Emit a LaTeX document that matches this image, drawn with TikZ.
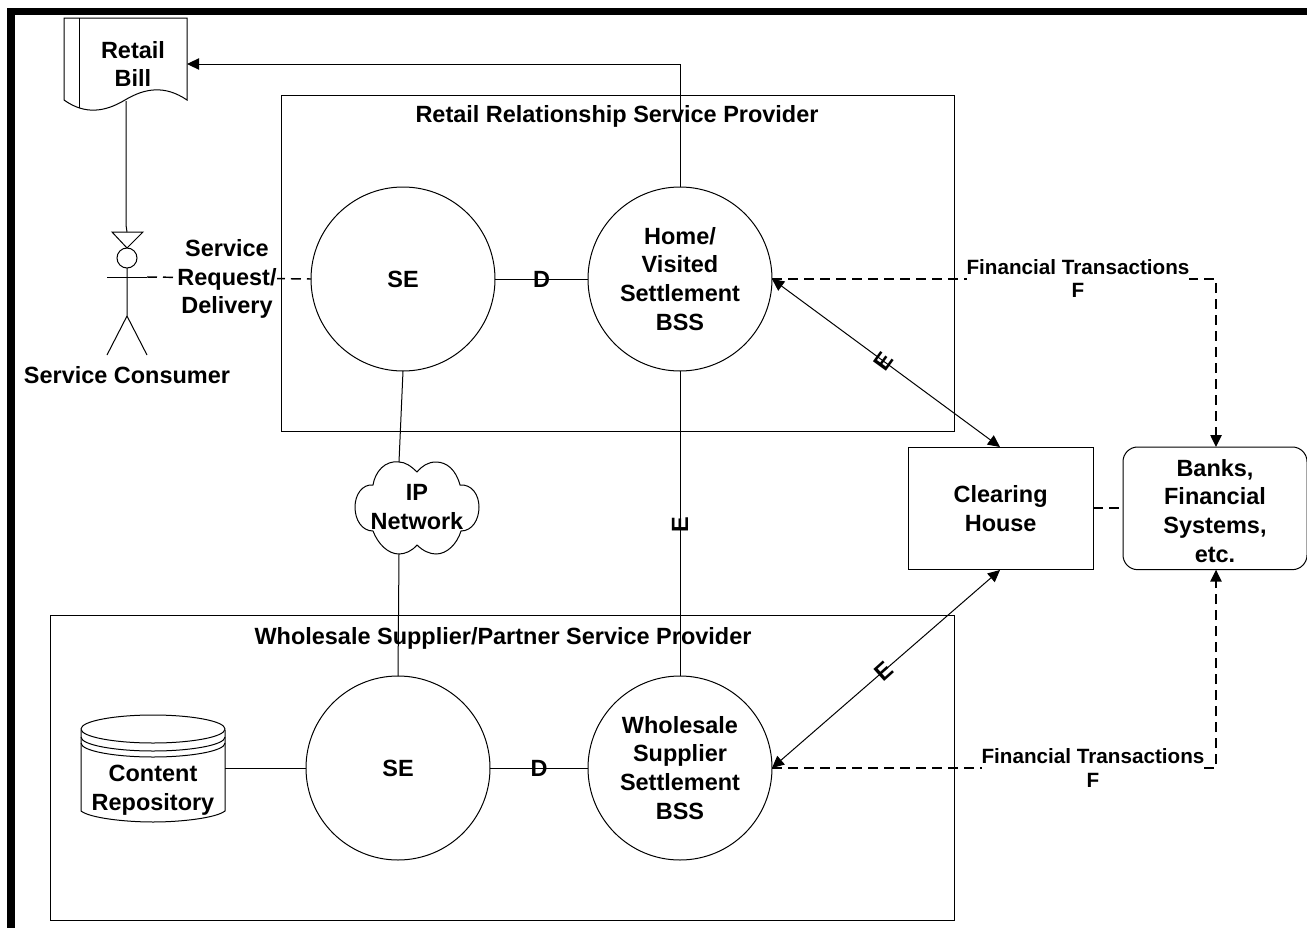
\documentclass[tikz,border=0pt]{standalone}
\usepackage{fontspec}
\setmainfont{Liberation Sans}
\usetikzlibrary{arrows.meta}
\tikzset{
 x=0.75pt,y=-0.75pt,
 every node/.style={font=\fontsize{17.6}{21.6}\selectfont\bfseries,align=center,inner sep=0pt,outer sep=0pt,text=black},
 ln/.style={draw=black,line width=0.75pt},
 box/.style={ln,rectangle,anchor=north west},
 circ/.style={ln,circle,minimum size=138pt},
 tip/.style={-{Triangle[length=9pt,width=8.5pt]}},
 ttip/.style={{Triangle[length=9pt,width=8.5pt]}-{Triangle[length=9pt,width=8.5pt]}},
 dsh/.style={line width=1.1pt,dash pattern=on 7.5pt off 4.5pt},
 small/.style={font=\fontsize{15.5}{17.3}\selectfont\bfseries},
 wht/.style={fill=white}
}
\begin{document}
\begin{tikzpicture}
\useasboundingbox (0,0) rectangle (1307,928);
\fill[white] (0,0) rectangle (1307,928);
\fill[black] (7,8) rectangle (1307,15);
\fill[black] (7,8) rectangle (15,928);
% containers
\node[box,minimum width=505pt,minimum height=252pt] (rrsp) at (281,95) {};
\node[box,minimum width=678pt,minimum height=229pt] (wsp) at (50,615) {};
\node (rrspt) at (617,116) {Retail Relationship Service Provider};
\node (wspt) at (503,638) {Wholesale Supplier/Partner Service Provider};
% circles
\node[circ] (se1) at (403,279) {SE};
\node[circ] (home) at (680,279) {Home/\\Visited\\Settlement\\BSS};
\node[circ] (se2) at (398,768) {SE};
\node[circ] (wss) at (680,768) {Wholesale\\Supplier\\Settlement\\BSS};
% boxes
\node[box,minimum width=139pt,minimum height=92pt] (ch) at (908,447) {};
\node at (ch.center) (chl) {Clearing\\House};
\node[box,rounded corners=11pt,minimum width=138pt,minimum height=92pt] (banks) at (1123,447) {};
\node (bankl) at (1215,511) {Banks,\\Financial\\Systems,\\etc.};
% retail bill
\draw[ln,fill=white] (64,18) -- (187,18) -- (187,100) .. controls (165,85) and (145,88) .. (125,100) .. controls (105,112) and (85,115) .. (64,100) -- cycle;
\draw[ln] (79,18) -- (79,108);
\coordinate (billb) at (126,101);
\coordinate (billr) at (187,64);
\node (bill) at (133,64) {Retail\\Bill};
% actor
\coordinate (acttop) at (127,232);
\coordinate (actarm) at (147,277);
\draw[ln] (112,232) -- (143,232) -- (127,248) -- cycle;
\draw[ln] (127,258) circle[radius=10];
\draw[ln] (107,277) -- (147,277);
\draw[ln] (127,268) -- (127,316) (107,355) -- (127,316) -- (147,355);
\node (actl) at (127,375) {Service Consumer};
% cloud
\draw[ln,fill=white] (417,472) .. controls (411,466) and (405,462) .. (399,462)
 .. controls (385,460) and (375,472) .. (373,485)
 .. controls (362,484) and (355,495) .. (355,507)
 .. controls (355,520) and (362,531) .. (373,531)
 .. controls (378,544) and (388,554) .. (399,554)
 .. controls (405,554) and (412,551) .. (417,545)
 .. controls (423,551) and (430,554) .. (436,554)
 .. controls (447,554) and (457,544) .. (461,531)
 .. controls (472,531) and (479,520) .. (479,507)
 .. controls (479,495) and (472,484) .. (460,485)
 .. controls (456,470) and (447,462) .. (436,462)
 .. controls (428,462) and (422,466) .. (417,472) -- cycle;
\coordinate (cloudt) at (399,462);
\coordinate (cloudb) at (399,554);
\node (cloudl) at (417,507) {IP\\Network};
% cylinder
\draw[ln,fill=white] (81,730) -- (81,811) .. controls (90,818) and (125,822) .. (153,822) .. controls (181,822) and (216,818) .. (225,811) -- (225,730);
\draw[ln,fill=white] (81,729) .. controls (81,721) and (115,715) .. (153,715) .. controls (191,715) and (225,721) .. (225,729) .. controls (225,737) and (191,743) .. (153,743) .. controls (115,743) and (81,737) .. (81,729) -- cycle;
\draw[ln] (81,737) .. controls (81,745) and (115,751) .. (153,751) .. controls (191,751) and (225,745) .. (225,737);
\draw[ln] (81,743) .. controls (81,751) and (115,757) .. (153,757) .. controls (191,757) and (225,751) .. (225,743);
\coordinate (cylr) at (225,768);
\node (cyl) at (153,790) {Content\\Repository};
% connectors
\coordinate (homeup) at (680,64);
\draw[ln,tip] (home.north) -- (homeup) -- (billr);
\draw[ln] (billb) -- (126,225) -- (acttop);
\coordinate (se1l) at (se1.west);
\draw[ln,dsh] (actarm) -- (se1l);
\node[wht] (srd) at (227,279) {Service\\Request/\\Delivery};
\draw[ln] (se1) -- node (d1) {D} (home);
\draw[ln] (se2) -- node (d2) {D} (wss);
\draw[ln] (home) -- node[pos=0.505,rotate=90] (e2) {E} (wss);
\draw[ln] (se1.south) -- (cloudt);
\draw[ln] (cloudb) -- (se2.north);
\draw[ln] (cylr) -- (se2);
\coordinate (chtop) at (1000,447);
\coordinate (chbot) at (1000,570);
\draw[ln,ttip] (home.east) -- node[pos=0.49,rotate=54] (e1) {E} (chtop);
\draw[ln,ttip] (wss.east) -- node[pos=0.49,rotate=42] (e3) {E} (chbot);
\coordinate (fa) at (1216,279);
\coordinate (fb) at (1216,768);
\draw[ln,dsh,tip] (home.east) -- (fa) -- (banks.north -| fa);
\draw[ln,dsh,tip] (wss.east) -- (fb) -- (banks.south -| fb);
\draw[ln,dsh] (ch.east |- 0,508) -- (banks.west |- 0,508);
\node[small,wht] (ft1) at (1078,278.5) {Financial Transactions\\F};
\node[small,wht] (ft2) at (1093,768) {Financial Transactions\\F};
\end{tikzpicture}
\end{document}
